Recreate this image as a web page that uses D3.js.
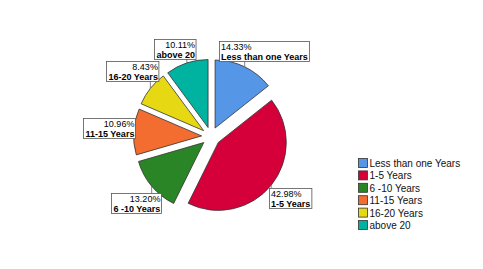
<!DOCTYPE html>
<html>
<head>
<meta charset="utf-8">
<script src="https://cdn.jsdelivr.net/npm/d3@7"></script>
<style>
  body { margin: 0; background: #fff; }
  svg { font-family: "Liberation Sans", Arial, sans-serif; }
</style>
</head>
<body>
<div id="chart"></div>
<script>
// chart data
var categories = ["Less than one Years", "1-5 Years", "6 -10 Years", "11-15 Years", "16-20 Years", "above 20"];
var percents = [14.33, 42.98, 13.20, 10.96, 8.43, 10.11];
var colors = ["#5596e6", "#d5003a", "#2a8527", "#f26d2f", "#e6d813", "#00b2a0"];

// label box top-left corners (layout only) and alignment
var labelBoxes = [[219, 41], [269, 188], [111, 193], [83, 118], [106, 61], [154, 39]];
var labelRight = [false, false, true, true, true, true];

var width = 483, height = 269;
var cx = 211, cy = 136.5, radius = 68, explode = 9.4;

var svg = d3.select("#chart").append("svg")
    .attr("width", width)
    .attr("height", height);

var data = categories.map(function(c, i) { return {name: c, value: percents[i], color: colors[i]}; });

var pie = d3.pie().sort(null).value(function(d) { return d.value; });
var arc = d3.arc().innerRadius(0).outerRadius(radius);
var arcs = pie(data);

var g = svg.append("g").attr("transform", "translate(" + cx + "," + cy + ")");

function mid(d) { return (d.startAngle + d.endAngle) / 2; }

g.selectAll("path.slice")
  .data(arcs)
  .enter()
  .append("path")
    .attr("class", "slice")
    .attr("d", arc)
    .attr("transform", function(d) {
      var a = mid(d);
      return "translate(" + (Math.sin(a) * explode) + "," + (-Math.cos(a) * explode) + ")";
    })
    .attr("fill", function(d) { return d.data.color; })
    .attr("stroke", "#333")
    .attr("stroke-width", 0.8);

// labels with boxes
var lg = svg.append("g");
arcs.forEach(function(d, i) {
  var a = mid(d);
  var r = radius + explode;
  var px = cx + Math.sin(a) * r, py = cy - Math.cos(a) * r;
  var bx = labelBoxes[i][0], by = labelBoxes[i][1];

  var box = lg.append("g");
  var rect = box.append("rect").attr("fill", "#fff").attr("stroke", "#555").attr("stroke-width", 0.8);
  var t1 = box.append("text").attr("font-size", "9px").text(d.data.value.toFixed(2) + "%");
  var t2 = box.append("text").attr("font-size", "9px").attr("font-weight", "bold").text(d.data.name);

  var w = Math.max(t1.node().getComputedTextLength(), t2.node().getComputedTextLength()) + 3;
  var h = 20;
  rect.attr("x", bx + 0.5).attr("y", by + 0.5).attr("width", w).attr("height", h);
  var tx = labelRight[i] ? bx + w - 0.5 : bx + 2;
  var anchor = labelRight[i] ? "end" : "start";
  t1.attr("x", tx).attr("y", by + 9).attr("text-anchor", anchor);
  t2.attr("x", tx).attr("y", by + 19).attr("text-anchor", anchor);

  // leader line to nearest point of box
  var nx = Math.max(bx, Math.min(px, bx + w)), ny = Math.max(by, Math.min(py, by + h));
  if (Math.hypot(px - nx, py - ny) > 1.5) {
    lg.insert("line", ":first-child")
      .attr("x1", nx).attr("y1", ny).attr("x2", px).attr("y2", py)
      .attr("stroke", "#666").attr("stroke-width", 0.8);
  }
});

// legend
var legend = svg.append("g").attr("transform", "translate(358,158)");
var rows = legend.selectAll("g")
  .data(data)
  .enter()
  .append("g")
    .attr("transform", function(d, i) { return "translate(0," + (i * 12.4) + ")"; });
rows.append("rect")
  .attr("x", 0.5).attr("y", 0.5).attr("width", 9).attr("height", 9)
  .attr("fill", function(d) { return d.color; })
  .attr("stroke", "#333").attr("stroke-width", 0.8);
rows.append("text")
  .attr("x", 11.5).attr("y", 9)
  .attr("font-size", "10px")
  .attr("fill", "#111")
  .text(function(d) { return d.name; });
</script>
</body>
</html>
